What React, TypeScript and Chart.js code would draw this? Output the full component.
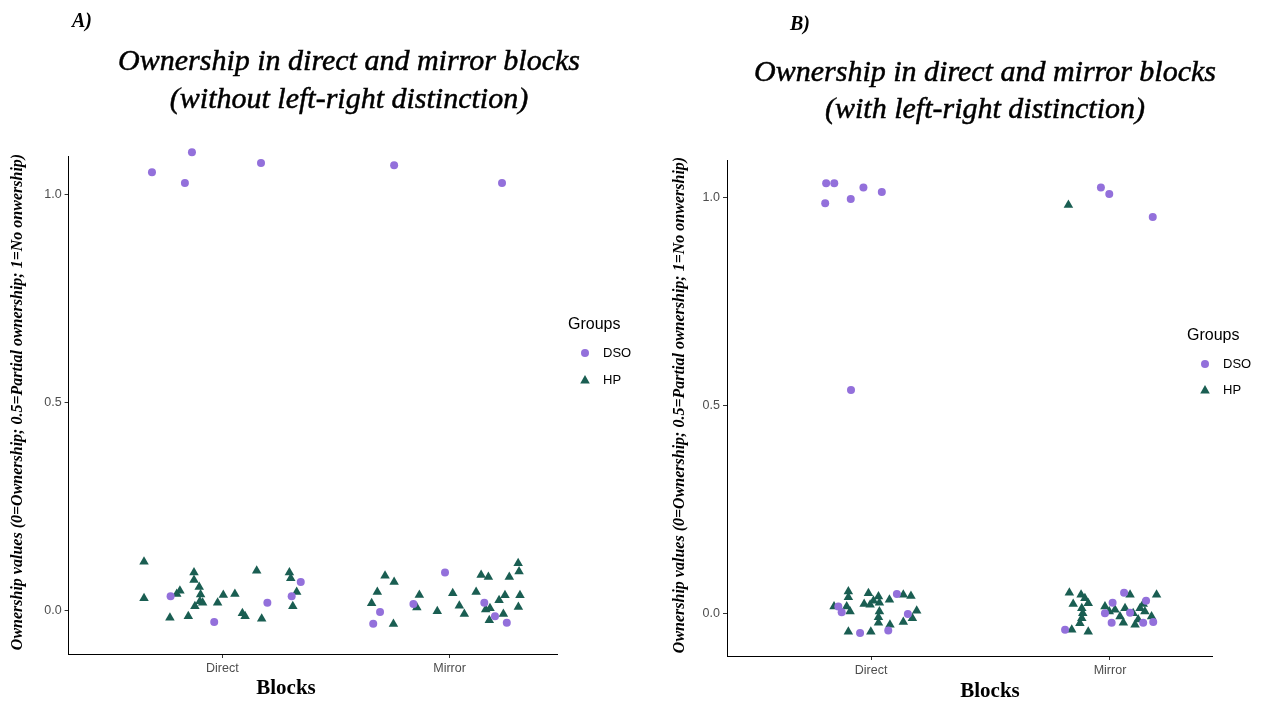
import React, { useEffect, useRef } from "react";
import { Chart, registerables } from "chart.js";

Chart.register(...registerables);

// ---------- DATA ----------
const categories = ["Direct", "Mirror"];
const yTickValues = [0, 0.5, 1.0];
const groups = ["DSO", "HP"];

// Panel A (without left-right distinction): x = jittered category position (1 = Direct, 2 = Mirror)
const aDsoX = [0.690, 0.835, 0.866, 1.170, 0.772, 0.964, 1.198, 1.305, 1.345,
  1.756, 2.231, 1.664, 1.694, 1.841, 1.980, 2.153, 2.200, 2.252];
const aDsoY = [1.054, 1.028, 1.102, 1.076, 0.035, -0.027, 0.019, 0.035, 0.069,
  1.071, 1.028, -0.031, -0.003, 0.016, 0.092, 0.019, -0.013, -0.029];
const aHpX = [0.655, 0.655, 0.769, 0.813, 0.799, 0.850, 0.875, 0.875, 0.898, 0.904, 0.901, 0.913,
  0.879, 0.979, 1.004, 1.055, 1.088, 1.100, 1.151, 1.173, 1.295, 1.301, 1.327, 1.310,
  1.716, 1.756, 1.682, 1.657, 1.753, 1.867, 1.856, 1.946, 2.014, 2.043, 2.065, 2.117, 2.139,
  2.171, 2.159, 2.178, 2.175, 2.218, 2.244, 2.263, 2.302, 2.306, 2.310, 2.303, 2.237];
const aHpY = [0.118, 0.030, -0.017, 0.048, 0.040, -0.013, 0.092, 0.074, 0.057, 0.039, 0.023, 0.019,
  0.011, 0.019, 0.038, 0.040, -0.006, -0.013, 0.096, -0.019, 0.092, 0.078, 0.045, 0.011,
  0.084, 0.069, 0.045, 0.018, -0.032, 0.038, 0.008, -0.001, 0.042, 0.012, -0.008, 0.045, 0.086,
  0.081, 0.003, 0.006, -0.023, 0.025, 0.037, 0.081, 0.114, 0.094, 0.037, 0.009, -0.008];

// Panel B (with left-right distinction)
const bDsoX = [0.812, 0.846, 0.808, 0.915, 0.968, 1.045, 0.916, 0.863, 0.877, 1.108, 1.154, 0.954, 1.072,
  1.962, 1.997, 2.179, 1.812, 1.979, 2.011, 2.059, 2.151, 2.007, 2.084, 2.139, 2.181];
const bDsoY = [1.035, 1.035, 0.987, 0.997, 1.025, 1.014, 0.538, 0.018, 0.004, 0.048, 0.000, -0.046, -0.040,
  1.025, 1.009, 0.954, -0.038, 0.002, 0.027, 0.051, 0.032, -0.021, 0.003, -0.021, -0.019];
const bHpX = [0.905, 0.905, 0.845, 0.898, 0.912, 0.989, 0.971, 0.996, 1.010, 1.031, 1.035, 1.035, 1.031,
  1.031, 1.077, 1.135, 1.167, 1.191, 1.173, 1.135, 1.079, 0.905, 0.999,
  1.826, 1.830, 1.846, 1.879, 1.895, 1.909, 1.882, 1.886, 1.882, 1.874, 1.840, 1.909, 1.979, 1.997,
  2.021, 2.042, 2.063, 2.056, 2.084, 2.097, 2.118, 2.126, 2.146, 2.105, 2.174, 2.195, 2.139];
const bHpY = [0.054, 0.040, 0.018, 0.018, 0.006, 0.050, 0.024, 0.022, 0.032, 0.042, 0.027, 0.006, -0.008,
  -0.021, 0.034, 0.046, 0.043, 0.008, -0.010, -0.019, -0.026, -0.043, -0.043,
  0.983, 0.051, 0.024, 0.046, 0.038, 0.026, 0.014, 0.002, -0.010, -0.022, -0.038, -0.043, 0.018, 0.006,
  0.010, -0.006, 0.014, -0.021, 0.046, 0.002, -0.013, 0.014, 0.006, -0.026, -0.006, 0.046, 0.024];

const DSO_COLOR = "#9370DB";
const HP_COLOR = "#1A5E52";

const SERIF = "'Liberation Serif', 'DejaVu Serif', serif";
const SANS = "'Liberation Sans', Arial, sans-serif";

type PanelSpec = {
  offset: number;
  width: number;
  area: { left: number; right: number; top: number; bottom: number };
  xRange: [number, number];
  yRange: [number, number];
  letter: string;
  letterPos: [number, number];
  title: string[];
  titleX: number;
  titleY: [number, number];
  yTitleX: number;
  yTitleY: number;
  blocksPos: [number, number];
  legend: { groupsX: number; groupsY: number; symX: number; textX: number; y1: number; y2: number };
  dsoX: number[]; dsoY: number[]; hpX: number[]; hpY: number[];
};

const panels: PanelSpec[] = [
  {
    offset: 0, width: 640,
    area: { left: 68.6, right: 557, top: 156, bottom: 654 },
    xRange: [0.323, 2.473], yRange: [-0.104, 1.093],
    letter: "A)", letterPos: [72, 22],
    title: ["Ownership in direct and mirror blocks", "(without left-right distinction)"],
    titleX: 349, titleY: [62, 100],
    yTitleX: 18, yTitleY: 402,
    blocksPos: [286, 689],
    legend: { groupsX: 568, groupsY: 325, symX: 585, textX: 603, y1: 353, y2: 380 },
    dsoX: aDsoX, dsoY: aDsoY, hpX: aHpX, hpY: aHpY,
  },
  {
    offset: 640, width: 630,
    area: { left: 727, right: 1212, top: 160, bottom: 656 },
    xRange: [0.397, 2.427], yRange: [-0.101, 1.091],
    letter: "B)", letterPos: [790, 25],
    title: ["Ownership in direct and mirror blocks", "(with left-right distinction)"],
    titleX: 985, titleY: [73, 110],
    yTitleX: 680, yTitleY: 405,
    blocksPos: [990, 692],
    legend: { groupsX: 1187, groupsY: 336, symX: 1205, textX: 1223, y1: 364, y2: 390 },
    dsoX: bDsoX, dsoY: bDsoY, hpX: bHpX, hpY: bHpY,
  },
];

function zip(xs: number[], ys: number[]) {
  return xs.map((x, i) => ({ x, y: ys[i] }));
}

function Panel({ spec }: { spec: PanelSpec }) {
  const ref = useRef<HTMLCanvasElement | null>(null);
  useEffect(() => {
    const canvas = ref.current;
    if (!canvas) return;
    const o = spec.offset;
    const xAxisH = 30;
    const decor = {
      id: "decor" + spec.letter,
      afterDraw(chart: any) {
        const ctx = chart.ctx as CanvasRenderingContext2D;
        ctx.save();
        ctx.textBaseline = "middle";
        // panel letter
        ctx.fillStyle = "#000";
        ctx.strokeStyle = "#000";
        ctx.textAlign = "left";
        ctx.font = `italic bold 20px ${SERIF}`;
        ctx.fillText(spec.letter, spec.letterPos[0] - o, spec.letterPos[1]);
        // title
        ctx.textAlign = "center";
        ctx.font = `italic 30px ${SERIF}`;
        ctx.lineWidth = 0.5;
        for (let i = 0; i < 2; i++) {
          ctx.fillText(spec.title[i], spec.titleX - o, spec.titleY[i]);
          ctx.strokeText(spec.title[i], spec.titleX - o, spec.titleY[i]);
        }
        // x title
        ctx.font = `bold 21px ${SERIF}`;
        ctx.fillText("Blocks", spec.blocksPos[0] - o, spec.blocksPos[1]);
        // y title
        ctx.save();
        ctx.translate(spec.yTitleX - o, spec.yTitleY);
        ctx.rotate(-Math.PI / 2);
        ctx.font = `italic bold 16px ${SERIF}`;
        ctx.fillText("Ownership values (0=Ownership; 0.5=Partial ownership; 1=No onwership)", 0, 0);
        ctx.restore();
        // legend
        const L = spec.legend;
        ctx.textAlign = "left";
        ctx.fillStyle = "#000";
        ctx.font = `16px ${SANS}`;
        ctx.fillText("Groups", L.groupsX - o, L.groupsY);
        ctx.font = `13px ${SANS}`;
        ctx.fillText(groups[0], L.textX - o, L.y1);
        ctx.fillText(groups[1], L.textX - o, L.y2);
        ctx.fillStyle = DSO_COLOR;
        ctx.beginPath();
        ctx.arc(L.symX - o, L.y1, 4, 0, Math.PI * 2);
        ctx.fill();
        ctx.fillStyle = HP_COLOR;
        ctx.beginPath();
        const tx = L.symX - o, ty = L.y2;
        ctx.moveTo(tx, ty - 5);
        ctx.lineTo(tx + 4.8, ty + 3.5);
        ctx.lineTo(tx - 4.8, ty + 3.5);
        ctx.closePath();
        ctx.fill();
        ctx.restore();
      },
    };
    const chart = new Chart(canvas, {
      type: "scatter",
      data: {
        datasets: [
          {
            label: groups[0],
            data: zip(spec.dsoX, spec.dsoY),
            pointStyle: "circle",
            pointRadius: 4,
            backgroundColor: DSO_COLOR,
            borderWidth: 0,
            clip: false as any,
          },
          {
            label: groups[1],
            data: zip(spec.hpX, spec.hpY),
            pointStyle: "triangle",
            pointRadius: 5.5,
            backgroundColor: HP_COLOR,
            borderWidth: 0,
            clip: false as any,
          },
        ],
      },
      options: {
        animation: false,
        responsive: false,
        maintainAspectRatio: false,
        events: [],
        layout: {
          padding: {
            left: 0,
            top: spec.area.top,
            right: spec.width - (spec.area.right - o),
            bottom: 702 - spec.area.bottom - xAxisH,
          },
        },
        plugins: { legend: { display: false }, tooltip: { enabled: false }, title: { display: false } },
        scales: {
          x: {
            type: "linear",
            min: spec.xRange[0],
            max: spec.xRange[1],
            afterBuildTicks: (s: any) => {
              s.ticks = [{ value: 1 }, { value: 2 }];
            },
            afterFit: (s: any) => {
              s.height = xAxisH;
            },
            ticks: {
              callback: (v: any) => categories[Number(v) - 1] ?? "",
              color: "#4D4D4D",
              font: { family: SANS, size: 12.5 },
              padding: 3,
              maxRotation: 0,
            },
            grid: { display: true, drawOnChartArea: false, drawTicks: true, tickLength: 4, color: "#333333" },
            border: { display: true, color: "#000000", width: 1 },
          },
          y: {
            type: "linear",
            min: spec.yRange[0],
            max: spec.yRange[1],
            afterBuildTicks: (s: any) => {
              s.ticks = yTickValues.map((v) => ({ value: v }));
            },
            afterFit: (s: any) => {
              s.width = spec.area.left - o;
            },
            ticks: {
              callback: (v: any) => Number(v).toFixed(1),
              color: "#4D4D4D",
              font: { family: SANS, size: 12.5 },
              padding: 3,
            },
            grid: { display: true, drawOnChartArea: false, drawTicks: true, tickLength: 4, color: "#333333" },
            border: { display: true, color: "#000000", width: 1 },
          },
        },
      },
      plugins: [decor],
    });
    return () => chart.destroy();
  }, [spec]);
  return (
    <canvas
      ref={ref}
      width={spec.width}
      height={702}
      style={{ position: "absolute", left: spec.offset, top: 0, width: spec.width, height: 702 }}
    />
  );
}

export default function App() {
  return (
    <div style={{ position: "absolute", left: 0, top: 0, width: 1270, height: 702, background: "#fff", overflow: "hidden" }}>
      {panels.map((p) => (
        <Panel key={p.letter} spec={p} />
      ))}
    </div>
  );
}
